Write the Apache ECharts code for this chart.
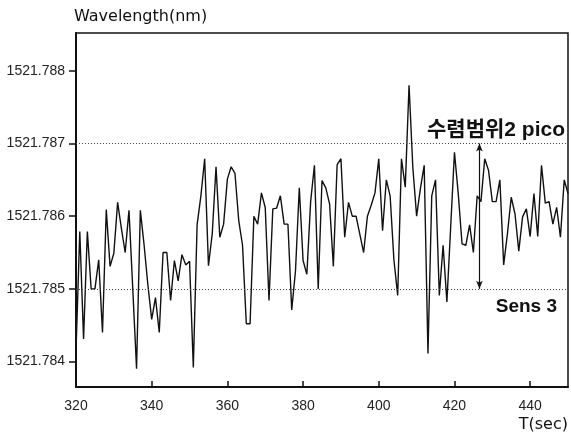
<!DOCTYPE html>
<html>
<head>
<meta charset="utf-8">
<script src="https://cdn.jsdelivr.net/npm/echarts@6/dist/echarts.min.js"></script>
<style>
html,body{margin:0;padding:0;background:#fff;}
#c{width:571px;height:437px;}
</style>
</head>
<body>
<div id="c"></div>
<script>
const times = [320,321,322,323,324,325,326,327,328,329,330,331,332,333,334,335,336,337,338,339,
340,341,342,343,344,345,346,347,348,349,350,351,352,353,354,355,356,357,358,359,
360,361,362,363,364,365,366,367,368,369,370,371,372,373,374,375,376,377,378,379,
380,381,382,383,384,385,386,387,388,389,390,391,392,393,394,395,396,397,398,399,
400,401,402,403,404,405,406,407,408,409,410,411,412,413,414,415,416,417,418,419,
420,421,422,423,424,425,426,427,428,429,430,431,432,433,434,435,436,437,438,439,
440,441,442,443,444,445,446,447,448,449,450];
const wavelength = [1521.78415,1521.78579,1521.78431,1521.78579,1521.78500,1521.78500,1521.78540,1521.78440,1521.78609,1521.78531,
1521.78549,1521.78619,1521.78583,1521.78550,1521.78608,1521.78500,1521.78390,1521.78608,1521.78560,1521.78505,
1521.78458,1521.78488,1521.78440,1521.78550,1521.78550,1521.78484,1521.78539,1521.78511,1521.78547,1521.78533,
1521.78538,1521.78392,1521.78588,1521.78628,1521.78679,1521.78532,1521.78576,1521.78668,1521.78571,1521.78589,
1521.78651,1521.78668,1521.78659,1521.78594,1521.78560,1521.78452,1521.78452,1521.78600,1521.78589,1521.78632,
1521.78612,1521.78484,1521.78610,1521.78611,1521.78628,1521.78589,1521.78589,1521.78471,1521.78525,1521.78639,
1521.78539,1521.78520,1521.78620,1521.78670,1521.78500,1521.78649,1521.78639,1521.78617,1521.78531,1521.78671,
1521.78679,1521.78571,1521.78619,1521.78600,1521.78600,1521.78575,1521.78550,1521.78600,1521.78615,1521.78632,
1521.78679,1521.78580,1521.78650,1521.78628,1521.78540,1521.78491,1521.78679,1521.78640,1521.78780,1521.78667,
1521.78600,1521.78638,1521.78670,1521.78411,1521.78628,1521.78650,1521.78491,1521.78560,1521.78482,1521.78585,
1521.78688,1521.78631,1521.78562,1521.78560,1521.78588,1521.78550,1521.78628,1521.78620,1521.78679,1521.78663,
1521.78620,1521.78620,1521.78650,1521.78533,1521.78576,1521.78626,1521.78603,1521.78552,1521.78599,1521.78610,
1521.78572,1521.78631,1521.78572,1521.78670,1521.78618,1521.78620,1521.78589,1521.78612,1521.78571,1521.78650,
1521.78631];
const xTicks = [320,340,360,380,400,420,440];
const yTicks = [1521.784,1521.785,1521.786,1521.787,1521.788];
const xRange = [320, 450];
const yRange = [1521.78365, 1521.78852];
const upperLimit = 1521.787;
const lowerLimit = 1521.785;
const upperLabel = '수렴범위2 pico';
const lowerLabel = 'Sens 3';
const arrowT = 426.6;

const points = times.map((t, i) => [t, wavelength[i]]);
const NUM = 'Arial, "Liberation Sans", sans-serif';

const chart = echarts.init(document.getElementById('c'), null, {renderer: 'canvas'});
chart.setOption({
  animation: false,
  backgroundColor: '#fff',
  grid: {left: 76, right: 2, top: 33, bottom: 50, show: true, borderColor: '#111', borderWidth: 1.5, containLabel: false},
  xAxis: {
    type: 'value', min: xRange[0], max: xRange[1],
    name: 'T(sec)', nameLocation: 'end', nameGap: 0,
    nameTextStyle: {align: 'right', verticalAlign: 'top', padding: [30, 0, 0, 0], fontSize: 16, color: '#111', fontFamily: '"DejaVu Sans", sans-serif'},
    axisLine: {show: true, onZero: false, lineStyle: {color: '#111', width: 2}},
    axisTick: {show: true, inside: true, length: 6, customValues: xTicks, lineStyle: {color: '#111', width: 1.5}},
    axisLabel: {customValues: xTicks, fontSize: 14, color: '#222', margin: 12, fontFamily: NUM},
    splitLine: {show: false}
  },
  yAxis: {
    type: 'value', min: yRange[0], max: yRange[1],
    name: 'Wavelength(nm)', nameLocation: 'end', nameGap: 8,
    nameTextStyle: {align: 'left', verticalAlign: 'bottom', fontSize: 16, color: '#111', fontFamily: '"DejaVu Sans", sans-serif', padding: [0, 0, 0, -2]},
    axisLine: {show: true, lineStyle: {color: '#111', width: 2}},
    axisTick: {show: true, inside: false, length: 7, customValues: yTicks, lineStyle: {color: '#111', width: 1.5}},
    axisLabel: {customValues: yTicks, fontSize: 14, color: '#222', margin: 11, fontFamily: NUM,
      formatter: v => Number(v).toFixed(3)},
    splitLine: {show: false}
  },
  series: [
    {
      type: 'line', data: points, showSymbol: false, symbol: 'none',
      lineStyle: {color: '#111', width: 1.4},
      silent: true, z: 3
    },
    {
      type: 'line', data: [], silent: true, z: 2,
      markLine: {
        silent: true, symbol: ['none', 'none'],
        lineStyle: {color: '#444', width: 1, type: [1, 2]},
        data: [
          [{coord: [xRange[0], upperLimit], label: {show: true, position: 'insideEndTop', formatter: upperLabel, distance: 3,
              fontSize: 21, fontWeight: 'bold', color: '#111', fontFamily: 'Arial, "Noto Sans CJK KR", sans-serif'}},
           {coord: [xRange[1], upperLimit]}],
          [{coord: [xRange[0], lowerLimit], label: {show: true, position: 'insideEndBottom', formatter: lowerLabel, distance: 8,
              fontSize: 19, fontWeight: 'bold', color: '#111', fontFamily: 'Arial, "Liberation Sans", sans-serif', padding: [0, 3, 0, 0]}},
           {coord: [xRange[1], lowerLimit]}]
        ]
      }
    },
    {
      type: 'line', data: [], silent: true, z: 4,
      markLine: {
        silent: true, symbol: ['arrow', 'arrow'], symbolSize: [5, 8],
        lineStyle: {color: '#111', width: 1.2, type: 'solid'},
        label: {show: false},
        data: [[{coord: [arrowT, upperLimit]}, {coord: [arrowT, lowerLimit]}]]
      }
    }
  ]
});
</script>
</body>
</html>
